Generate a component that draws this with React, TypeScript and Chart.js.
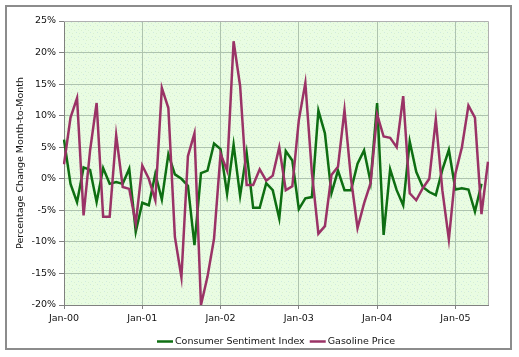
import { useEffect, useRef } from 'react';
import { Chart, registerables } from 'chart.js';

Chart.register(...registerables);

const years = ['00', '01', '02', '03', '04', '05'];
const monthNames = ['Jan', 'Feb', 'Mar', 'Apr', 'May', 'Jun', 'Jul', 'Aug', 'Sep', 'Oct', 'Nov', 'Dec'];
const monthLabels: string[] = [];
years.forEach((y) => monthNames.forEach((m) => monthLabels.push(`${m}-${y}`)));
const categories = monthLabels.slice(0, 66);

const sentimentLabel = 'Consumer Sentiment Index';
const gasolineLabel = 'Gasoline Price';

const sentiment = [
  6.2, -0.8, -3.7, 1.8, 1.4, -3.7, 1.7, -0.8, -0.5, -0.8, 1.6, -8.4,
  -3.8, -4.2, 0.8, -3.3, 3.9, 0.7, 0.0, -1.1, -10.5, 0.9, 1.3, 5.6,
  4.7, -2.4, 5.4, -2.7, 4.1, -4.6, -4.6, -0.7, -1.8, -6.3, 4.4, 2.9,
  -4.8, -3.1, -2.9, 10.8, 7.2, -2.3, 1.3, -1.8, -1.8, 2.4, 4.5, -0.5,
  12.0, -8.9, 1.5, -1.8, -4.2, 5.9, 1.1, -1.3, -2.1, -2.6, 1.4, 4.6,
  -1.7, -1.5, -1.7, -5.2, -0.8,
];

const gasoline = [
  2.3, 9.7, 12.8, -5.8, 4.5, 12.0, -6.0, -6.0, 6.9, -1.3, -1.6, -7.1,
  2.1, 0.0, -3.4, 14.4, 11.2, -9.2, -15.6, 3.6, 7.2, -20.0, -15.5, -9.5,
  4.0, 1.3, 21.8, 14.7, -1.0, -1.0, 1.5, -0.3, 0.5, 5.0, -1.8, -1.2,
  9.3, 15.2, 1.0, -8.7, -7.5, 0.6, 1.9, 10.9, 0.0, -7.8, -3.9, -0.7,
  10.2, 6.7, 6.5, 5.0, 13.1, -2.3, -3.4, -1.5, 0.0, 9.4, -1.8, -9.6,
  0.8, 5.0, 11.6, 9.7, -5.6, 2.7,
];

const yTitle = 'Percentage Change Month-to-Month';

const GREEN = '#0e6e12';
const MAGENTA = '#9a3366';
const GRID = '#aec3ae';
const AXIS = '#808080';
const TEXT = '#111111';
const FONT_FAMILY = '"DejaVu Sans", Verdana, sans-serif';
const FONT_SIZE = 9.5;

export default function App() {
  const canvasRef = useRef<HTMLCanvasElement | null>(null);

  useEffect(() => {
    const canvas = canvasRef.current;
    if (!canvas) return;

    const pat = document.createElement('canvas');
    pat.width = 7;
    pat.height = 7;
    const pctx = pat.getContext('2d')!;
    pctx.fillStyle = '#e9fce2';
    pctx.fillRect(0, 0, 7, 7);
    const dots: [number, number, string][] = [
      [1, 1, '#cfeadf'],
      [4, 2, '#d8f1cf'],
      [6, 4, '#cfe9e0'],
      [2, 5, '#d9f2cc'],
    ];
    dots.forEach(([dx, dy, c]) => {
      pctx.fillStyle = c;
      pctx.fillRect(dx, dy, 1, 1);
    });

    const bgPlugin = {
      id: 'bgPlugin',
      beforeDraw(chart: any) {
        const { ctx, chartArea } = chart;
        ctx.save();
        ctx.fillStyle = '#ffffff';
        ctx.fillRect(0, 0, chart.width, chart.height);
        ctx.strokeStyle = '#8c8c8c';
        ctx.lineWidth = 2;
        ctx.strokeRect(6, 6, 505, 343);
        const pattern = ctx.createPattern(pat, 'repeat');
        ctx.fillStyle = pattern || '#e9fce2';
        ctx.fillRect(chartArea.left, chartArea.top, chartArea.right - chartArea.left, chartArea.bottom - chartArea.top);
        ctx.restore();
      },
      beforeDatasetsDraw(chart: any) {
        const { ctx, chartArea } = chart;
        ctx.save();
        ctx.strokeStyle = '#b0b0b0';
        ctx.lineWidth = 1;
        ctx.beginPath();
        ctx.moveTo(chartArea.left, chartArea.top + 0.5);
        ctx.lineTo(chartArea.right + 0.5, chartArea.top + 0.5);
        ctx.lineTo(chartArea.right + 0.5, chartArea.bottom);
        ctx.stroke();
        ctx.restore();
      },
      afterDraw(chart: any) {
        const { ctx, chartArea } = chart;
        ctx.save();
        ctx.font = `${FONT_SIZE}px ${FONT_FAMILY}`;
        ctx.textBaseline = 'middle';
        ctx.textAlign = 'left';
        const items = chart.data.datasets.map((d: any) => ({ label: d.label, color: d.borderColor }));
        const sample = 16;
        const gapText = 2;
        const gapItem = 5;
        const widths = items.map((it: any) => sample + gapText + ctx.measureText(it.label).width);
        const total = widths.reduce((a: number, b: number) => a + b, 0) + gapItem * (items.length - 1);
        let x = (chartArea.left + chartArea.right) / 2 - total / 2;
        const y = 341.5;
        items.forEach((it: any, i: number) => {
          ctx.strokeStyle = it.color;
          ctx.lineWidth = 2.5;
          ctx.beginPath();
          ctx.moveTo(x, y);
          ctx.lineTo(x + sample, y);
          ctx.stroke();
          ctx.fillStyle = TEXT;
          ctx.fillText(it.label, x + sample + gapText, y);
          x += widths[i] + gapItem;
        });
        ctx.restore();
      },
    };

    const font = { family: FONT_FAMILY, size: FONT_SIZE };

    const chart = new Chart(canvas, {
      type: 'line',
      data: {
        labels: categories,
        datasets: [
          {
            label: sentimentLabel,
            data: sentiment,
            borderColor: GREEN,
            backgroundColor: GREEN,
            borderWidth: 2.5,
            pointRadius: 0,
            tension: 0,
            fill: false,
            order: 1,
          },
          {
            label: gasolineLabel,
            data: gasoline,
            borderColor: MAGENTA,
            backgroundColor: MAGENTA,
            borderWidth: 2.5,
            pointRadius: 0,
            tension: 0,
            fill: false,
            order: 0,
          },
        ],
      },
      options: {
        responsive: false,
        animation: false,
        devicePixelRatio: 1,
        layout: { padding: { top: 21, right: 31, bottom: 0, left: 0 } },
        plugins: {
          legend: { display: false },
          tooltip: { enabled: false },
        },
        scales: {
          x: {
            type: 'category',
            offset: false,
            grid: {
              color: (c: any) => (c.index % 12 === 0 && c.index > 0 ? GRID : 'rgba(0,0,0,0)'),
              tickColor: (c: any) => (c.index % 12 === 0 ? AXIS : 'rgba(0,0,0,0)'),
              drawTicks: true,
              tickLength: 4,
            },
            border: { display: true, color: AXIS, width: 1 },
            ticks: {
              autoSkip: false,
              maxRotation: 0,
              minRotation: 0,
              padding: 4,
              color: TEXT,
              font,
              callback: (_v: any, i: number) => (i % 12 === 0 ? categories[i] : ''),
            },
            afterFit: (s: any) => {
              s.height = 52;
            },
          },
          y: {
            min: -20,
            max: 25,
            grid: {
              color: (c: any) => (c.index === 0 ? 'rgba(0,0,0,0)' : GRID),
              tickColor: AXIS,
              drawTicks: true,
              tickLength: 5,
            },
            border: { display: true, color: AXIS, width: 1 },
            ticks: {
              stepSize: 5,
              padding: 3,
              color: TEXT,
              font,
              callback: (v: any) => `${v}%`,
            },
            title: {
              display: true,
              text: yTitle,
              color: TEXT,
              font,
              padding: { top: 15, bottom: 0 },
            },
            afterFit: (s: any) => {
              s.width = 64;
            },
          },
        },
      },
      plugins: [bgPlugin],
    });

    return () => {
      chart.destroy();
    };
  }, []);

  return (
    <div style={{ position: 'fixed', left: 0, top: 0, width: 519, height: 357, background: '#fff' }}>
      <canvas ref={canvasRef} width={519} height={357} style={{ display: 'block' }} />
    </div>
  );
}
